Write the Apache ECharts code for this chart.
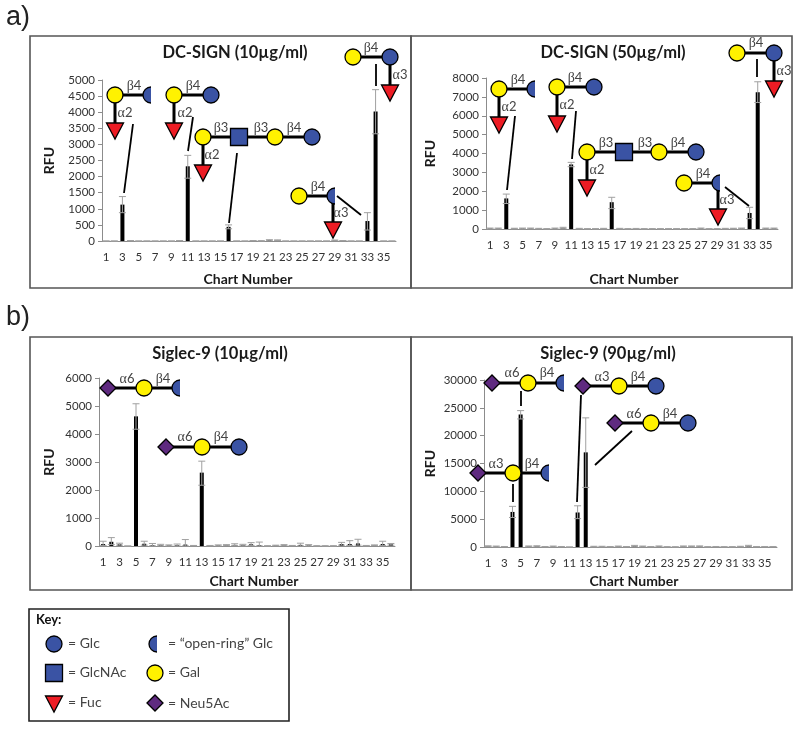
<!DOCTYPE html>
<html>
<head>
<meta charset="utf-8">
<style>html,body{margin:0;padding:0;background:#fff}#c{width:800px;height:729px}</style>
<script src="https://cdn.jsdelivr.net/npm/echarts@6/dist/echarts.min.js"></script>
</head>
<body>
<div id="c"></div>
<script>
// ---------- data ----------
const categories = Array.from({length:36},(_,i)=>String(i+1));

const dc10Values = [0,0,1130,10,0,0,0,0,0,10,2320,0,0,0,0,440,0,0,10,5,30,25,0,0,0,0,0,0,20,10,0,0,620,4020,0,0];
const dc10Upper  = [0,0,1380,15,0,0,0,0,0,15,2660,0,0,0,0,500,0,0,15,8,40,35,0,0,0,0,0,0,30,15,0,0,880,4700,0,0];
const dc10Lower  = [0,0,880,5,0,0,0,0,0,5,1950,0,0,0,0,380,0,0,5,2,20,15,0,0,0,0,0,0,10,5,0,0,340,3330,0,0];

const dc50Values = [30,30,1620,25,30,30,20,10,30,60,3420,20,10,10,20,1420,20,10,15,10,10,10,10,10,10,10,30,10,10,20,25,30,850,7250,30,30];
const dc50Upper  = [50,50,1850,40,50,50,35,20,50,90,3530,35,20,20,35,1680,35,20,30,20,20,20,20,20,20,20,50,20,20,35,40,50,1150,7800,50,50];
const dc50Lower  = [10,10,1350,10,10,10,5,0,10,30,3300,5,0,0,5,1080,5,0,0,0,0,0,0,0,0,0,10,0,0,5,10,10,550,6700,10,10];

const sg10Values = [70,150,60,0,4630,80,30,30,20,30,50,10,2620,10,20,30,40,30,60,30,5,20,30,10,40,20,5,5,5,70,70,90,10,30,70,60];
const sg10Upper  = [170,300,100,0,5080,170,90,60,40,70,230,20,3030,20,40,50,80,60,120,140,10,30,50,20,100,50,10,10,10,130,190,240,20,40,170,90];
const sg10Lower  = [20,50,30,0,4170,30,5,10,5,5,5,5,2170,5,5,15,15,10,20,5,0,10,15,5,5,5,0,0,0,30,20,30,5,15,20,30];

const sg90Values = [150,100,50,6300,23800,120,150,50,100,50,0,6200,17000,80,80,50,100,50,200,100,50,120,30,20,120,120,130,30,50,30,30,80,200,50,50,50];
const sg90Upper  = [220,170,90,7300,24500,190,230,90,170,90,0,7400,23200,130,130,90,170,90,290,170,90,190,60,40,190,190,200,60,90,60,60,130,300,90,90,90];
const sg90Lower  = [80,40,20,5300,23000,60,70,20,40,20,0,5100,10700,30,30,20,40,20,110,40,20,60,10,5,60,60,70,10,20,10,10,30,110,20,20,20];

const panelTitles = ['DC-SIGN (10µg/ml)','DC-SIGN (50µg/ml)','Siglec-9 (10µg/ml)','Siglec-9 (90µg/ml)'];
const yMaxima = [5000,8000,6000,30000];
const yIntervals = [500,1000,1000,5000];

// ---------- layout ----------
const panels = [
 {box:[30,36,381,252], grid:{left:102,top:80,width:294,height:161}, tx:235,ty:52, nameX:248, nameGap:31, yGap:46, values:dc10Values,upper:dc10Upper,lower:dc10Lower},
 {box:[411,36,381,252],grid:{left:486,top:78,width:292,height:151}, tx:613,ty:52, nameX:634, nameGap:43, yGap:49, values:dc50Values,upper:dc50Upper,lower:dc50Lower},
 {box:[30,337,381,253],grid:{left:99,top:378,width:296,height:168}, tx:220,ty:353,nameX:254, nameGap:28, yGap:43, values:sg10Values,upper:sg10Upper,lower:sg10Lower},
 {box:[411,337,381,253],grid:{left:484,top:380,width:293,height:167},tx:608,ty:353,nameX:634, nameGap:27, yGap:47, values:sg90Values,upper:sg90Upper,lower:sg90Lower}
];

const FONT='Lato, "Open Sans", sans-serif';
const BLUE='#3a53a4', YEL='#fff200', RED='#ed1c24', PUR='#5f2a80';
const g=[];
const Z=50;
function line(x1,y1,x2,y2,w){g.push({type:'line',z:Z,shape:{x1,y1,x2,y2},style:{stroke:'#000',lineWidth:w||3}});}
function circ(x,y,c){g.push({type:'circle',z:Z+1,shape:{cx:x,cy:y,r:8},style:{fill:c,stroke:'#000',lineWidth:1.3}});}
function half(x,y){
  g.push({type:'sector',z:Z+1,shape:{cx:x,cy:y,r:8,r0:0,startAngle:Math.PI/2,endAngle:Math.PI*1.5},style:{fill:BLUE}});
  g.push({type:'arc',z:Z+1,shape:{cx:x,cy:y,r:8,startAngle:Math.PI/2,endAngle:Math.PI*1.5,clockwise:true},style:{fill:'none',stroke:'#000',lineWidth:1.3}});
}
function sq(x,y){g.push({type:'rect',z:Z+1,shape:{x:x-8.5,y:y-8.5,width:17,height:17},style:{fill:BLUE,stroke:'#000',lineWidth:1.3}});}
function tri(x,top){g.push({type:'polygon',z:Z+1,shape:{points:[[x-8.5,top],[x+8.5,top],[x,top+16]]},style:{fill:RED,stroke:'#000',lineWidth:1.3}});}
function dia(x,y){g.push({type:'polygon',z:Z+1,shape:{points:[[x-8,y],[x,y-8],[x+8,y],[x,y+8]]},style:{fill:PUR,stroke:'#000',lineWidth:1.3}});}
function link(s,x,y){g.push({type:'text',z:Z+2,style:{x,y,text:'{g|'+s[0]+'}{d|'+s[1]+'}',align:'center',verticalAlign:'middle',
  rich:{g:{fontFamily:'"Liberation Serif",serif',fontSize:14,fill:'#444'},d:{fontFamily:FONT,fontSize:13,fill:'#444'}}}});}
function txt(s,x,y,o){g.push({type:'text',z:Z+2,style:Object.assign({x,y,text:s,fontFamily:FONT,fontSize:14,fill:'#333',verticalAlign:'middle'},o||{})});}

// Fuc branch hanging from residue at x, y
function fuc(x,y,top,lab,lx,ly){line(x,y,x,top+2);tri(x,top);link(lab,lx,ly);}

// Gal-Glc chain with optional open-ring Glc
function lacto(gx,gy,ex,open,lab,lx,ly){line(gx,gy,ex-(open?1:0),gy);circ(gx,gy,YEL);if(open)half(ex,gy);else circ(ex,gy,BLUE);link(lab,lx,ly);}
function sialyl(dx,y,gx,ex,open,a,ax,ay,bx,by){line(dx,y,ex-(open?1:0),y);dia(dx,y);circ(gx,y,YEL);if(open)half(ex,y);else circ(ex,y,BLUE);link(a,ax,ay);link('β4',bx,by);}

// --- DC-SIGN 10
fuc(115,95,123,'α2',125,113);lacto(115,95,151,true,'β4',134,86);line(133,124,124,193,1.8);
fuc(174,95,123,'α2',185,113);lacto(174,95,211,false,'β4',193,86);line(193,117,188,151,1.8);
fuc(203,137,165,'α2',212,155);line(203,137,312,137);circ(203,137,YEL);sq(239,137);circ(275,137,YEL);circ(312,137,BLUE);link('β3',221,128);link('β3',261,128);link('β4',294,128);line(237,153,229,223,1.8);
fuc(333,196,222,'α3',341,213);lacto(299,196,335,true,'β4',318,187);line(337,196,361,215,1.8);
fuc(390,57,85,'α3',400,75);lacto(353,57,390,false,'β4',371,48);line(376,64,376,86,1.8);
// --- DC-SIGN 50
fuc(499,89,117,'α2',509,107);lacto(499,89,535,true,'β4',518,80);line(515,116,507,190,1.8);
fuc(557,87,116,'α2',567,105);lacto(557,87,594,false,'β4',575,78);line(576,111,572,159,1.8);
fuc(587,152,180,'α2',597,170);line(587,152,696,152);circ(587,152,YEL);sq(624,152);circ(659,152,YEL);circ(696,152,BLUE);link('β3',606,143);link('β3',645,143);link('β4',678,143);
fuc(718,183,209,'α3',727,200);lacto(684,183,720,true,'β4',703,174);line(725,187,749,206,1.8);
fuc(774,53,81,'α3',784,71);lacto(737,53,774,false,'β4',756,43);line(757,59,757,77,1.8);
// --- Siglec-9 10
sialyl(108,388,144,180,true,'α6',127,379,163,379);
sialyl(166,447,202,239,false,'α6',185,437,221,437);
// --- Siglec-9 90
sialyl(492,383,528,564,true,'α6',512,373,547,373);line(521,391,521,406,1.8);
sialyl(583,386,619,656,false,'α3',602,377,638,377);line(581,395,577,502,1.8);
sialyl(615,423,651,688,false,'α6',634,414,670,414);line(632,431,595,465,1.8);
sialyl(478,473,513,549,true,'α3',496,464,532,464);line(513,484,513,502,1.8);

// panel frames
panels.forEach(p=>g.push({type:'rect',z:40,shape:{x:p.box[0],y:p.box[1],width:p.box[2],height:p.box[3]},style:{fill:'none',stroke:'#555',lineWidth:1.6}}));
// panel letters
txt('a)',6,18,{fontFamily:'"Liberation Sans",sans-serif',fontSize:27,fill:'#222'});
txt('b)',6,318,{fontFamily:'"Liberation Sans",sans-serif',fontSize:27,fill:'#222'});

// key
g.push({type:'rect',z:40,shape:{x:29,y:609,width:260,height:112},style:{fill:'none',stroke:'#222',lineWidth:1.6}});
txt('Key:',36,620,{fontWeight:'bold',fontSize:13,fill:'#111'});
circ(54,644,BLUE);txt('= Glc',68,643,{fill:'#444'});
half(157,644);txt('= “open-ring” Glc',168,643,{fill:'#444'});
sq(54,673);txt('= GlcNAc',68,672,{fill:'#444'});
circ(155,673,YEL);txt('= Gal',168,672,{fill:'#444'});
tri(54,696);txt('= Fuc',68,702,{fill:'#444'});
dia(155,703);txt('= Neu5Ac',168,703,{fill:'#444'});

// ---------- echarts option ----------
const option={
  animation:false,
  backgroundColor:'#fff',
  graphic:{elements:g},
  title:panels.map((p,i)=>({text:panelTitles[i],left:p.tx,top:p.ty-8,textAlign:'center',padding:0,
    textStyle:{fontFamily:FONT,fontWeight:'bold',fontSize:16.5,color:'#1a1a1a'}})),
  grid:panels.map(p=>Object.assign({containLabel:false},p.grid)),
  xAxis:panels.map((p,i)=>({gridIndex:i,type:'category',data:categories,
    name:'Chart Number',nameLocation:'middle',nameGap:p.nameGap,
    nameTextStyle:{fontFamily:FONT,fontWeight:'bold',fontSize:14,color:'#1a1a1a',
      padding:[0,(p.grid.left+p.grid.width/2-p.nameX)*2,0,0]},
    axisLine:{lineStyle:{color:'#8c8c8c',width:1}},
    axisTick:{length:3,inside:true,lineStyle:{color:'#8c8c8c'}},
    axisLabel:{interval:1,margin:10,fontFamily:FONT,fontSize:11.5,color:'#333'},
    splitLine:{show:false}})),
  yAxis:panels.map((p,i)=>({gridIndex:i,type:'value',min:0,max:yMaxima[i],interval:yIntervals[i],
    name:'RFU',nameLocation:'middle',nameGap:p.yGap,
    nameTextStyle:{fontFamily:FONT,fontWeight:'bold',fontSize:14,color:'#1a1a1a'},
    axisLine:{show:true,lineStyle:{color:'#8c8c8c',width:1}},
    axisTick:{show:true,length:4,lineStyle:{color:'#8c8c8c'}},
    axisLabel:{margin:7,fontFamily:FONT,fontSize:11.5,color:'#333',formatter:v=>String(v)},
    splitLine:{show:false}})),
  series:panels.flatMap((p,i)=>[
    {type:'bar',xAxisIndex:i,yAxisIndex:i,data:p.values,barWidth:4,itemStyle:{color:'#000'},silent:true},
    {type:'custom',xAxisIndex:i,yAxisIndex:i,silent:true,z:5,
     data:p.upper.map((u,k)=>[k,u,p.lower[k]]),
     encode:{x:0,y:[1,2]},
     renderItem:function(params,api){
       const hi=api.coord([api.value(0),api.value(1)]);
       const lo=api.coord([api.value(0),api.value(2)]);
       const cap=3.5, st={stroke:'#a0a0a0',lineWidth:1};
       return {type:'group',children:[
         {type:'line',shape:{x1:hi[0],y1:hi[1],x2:lo[0],y2:lo[1]},style:st},
         {type:'line',shape:{x1:hi[0]-cap,y1:hi[1],x2:hi[0]+cap,y2:hi[1]},style:st},
         {type:'line',shape:{x1:lo[0]-cap,y1:lo[1],x2:lo[0]+cap,y2:lo[1]},style:st}
       ]};
     }}
  ])
};
echarts.init(document.getElementById('c'),null,{renderer:'canvas'}).setOption(option);
</script>
</body>
</html>
